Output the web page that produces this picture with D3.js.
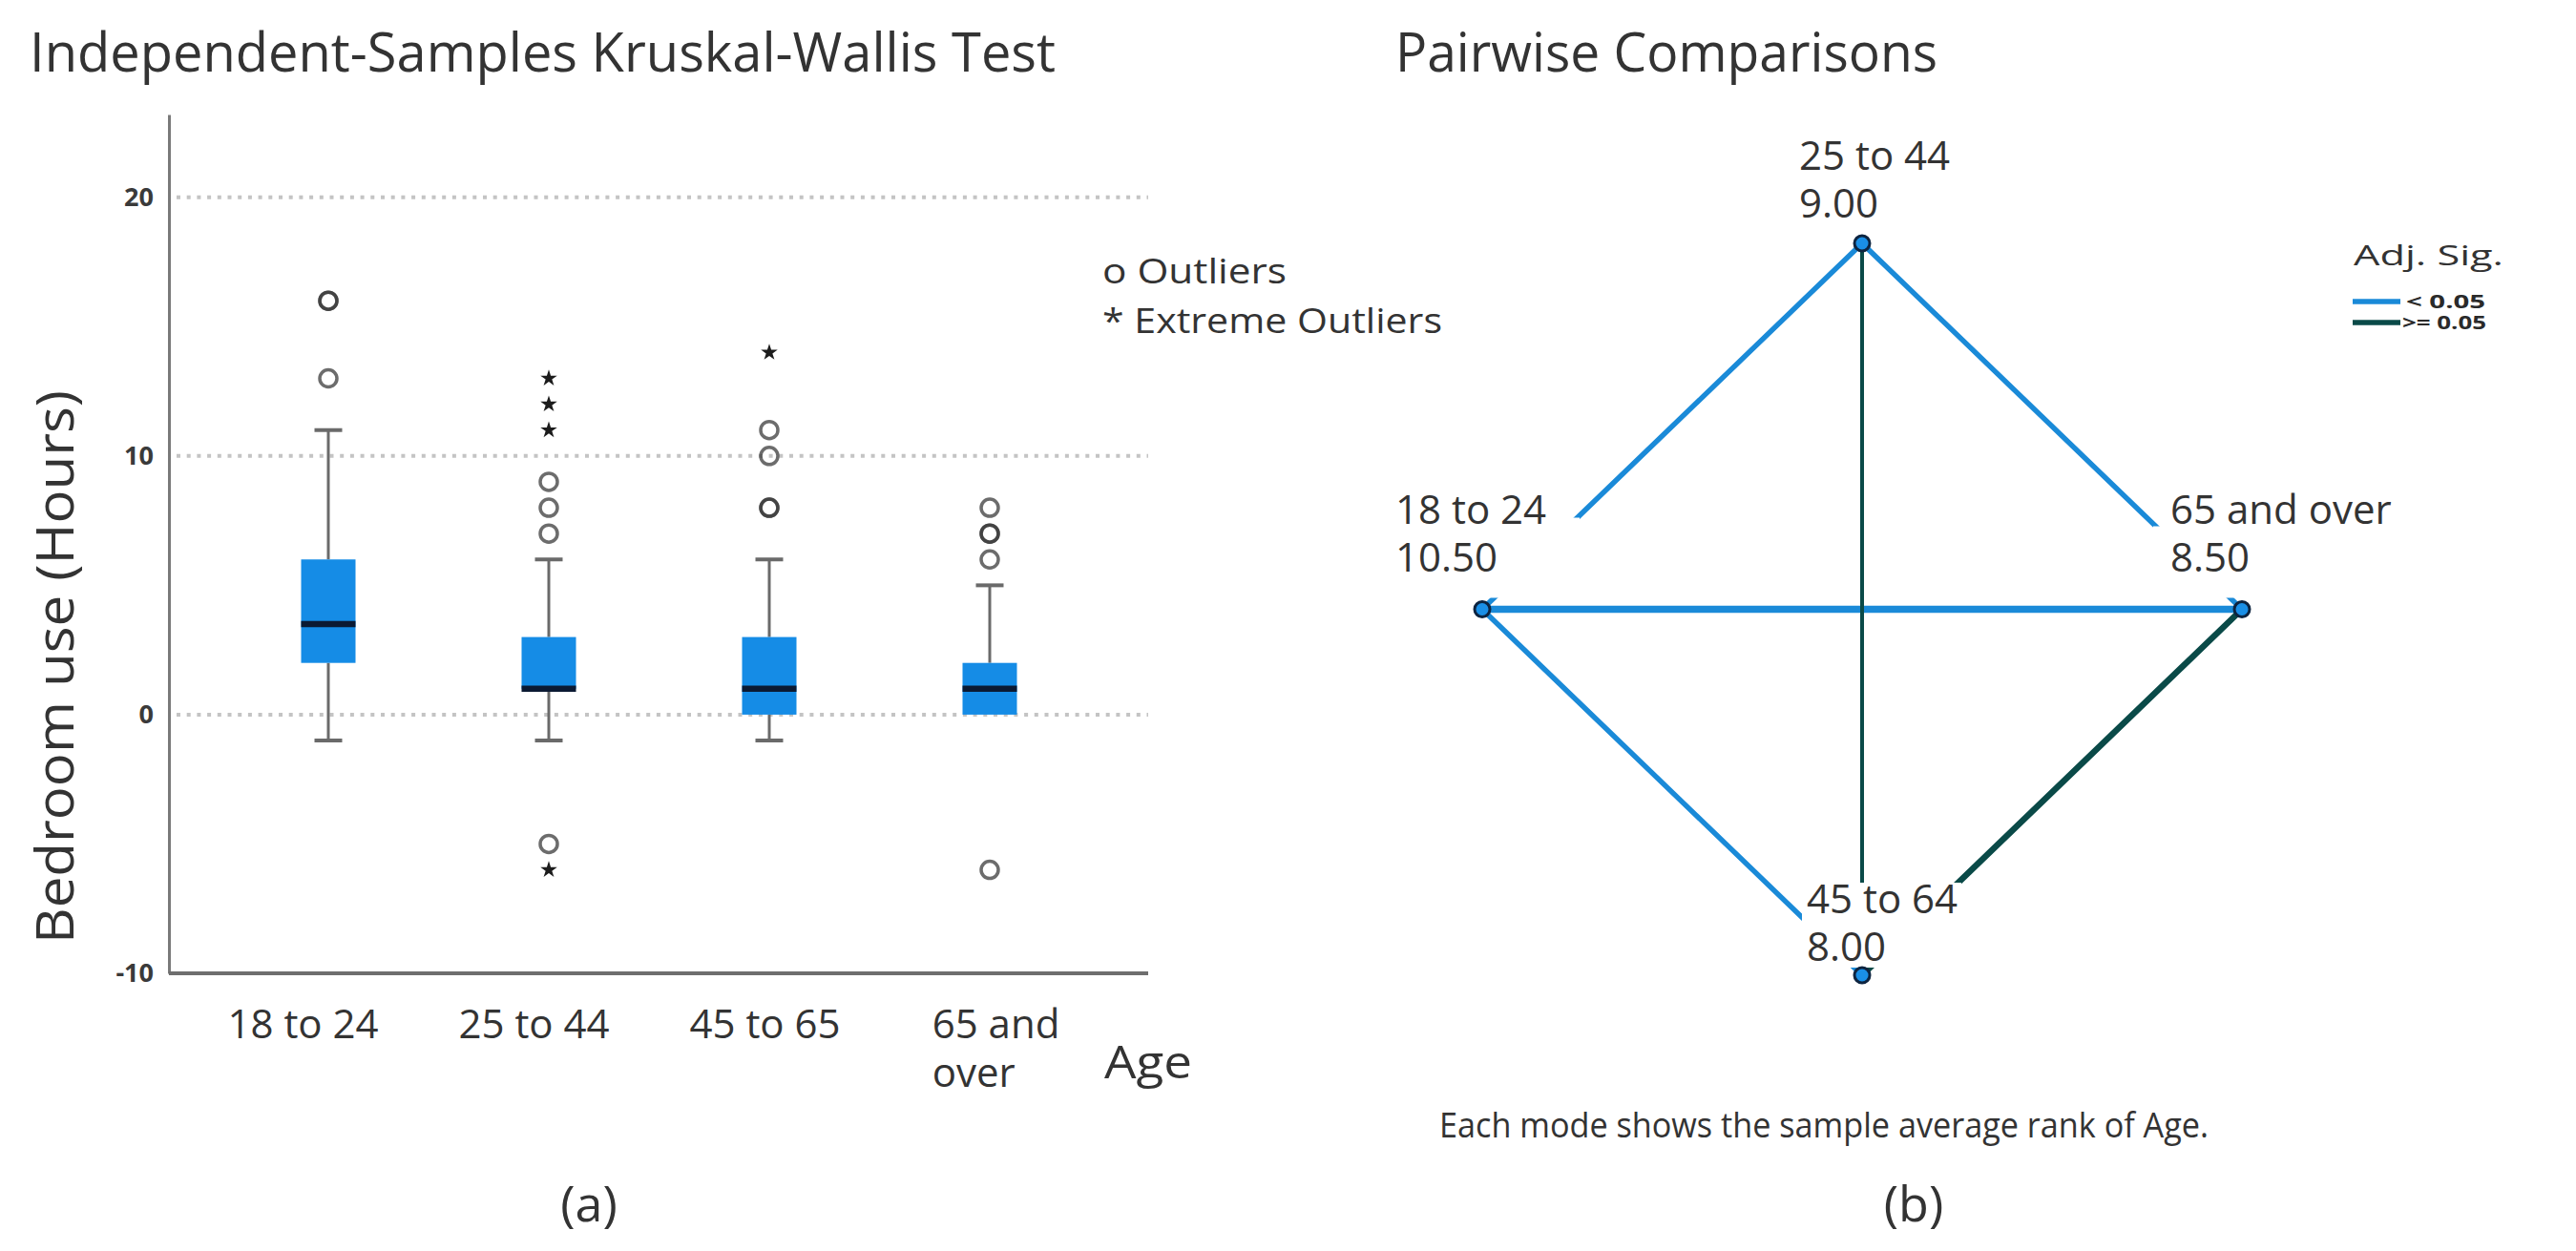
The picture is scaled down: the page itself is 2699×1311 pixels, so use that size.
<!DOCTYPE html>
<html><head><meta charset="utf-8">
<script src="https://cdn.jsdelivr.net/npm/d3@7"></script>
<style>
html,body{margin:0;padding:0;background:#fff;}
svg{display:block;font-family:"Open Sans",sans-serif;}
</style></head><body>
<svg id="chart" width="2699" height="1311"></svg>
<script>
// ---------- Panel (a) data: box plot of Bedroom use (Hours) by Age ----------
const categories   = ["18 to 24", "25 to 44", "45 to 65", "65 and over"];
const q1Values     = [2, 1, 0, 0];
const medianValues = [3.5, 1, 1, 1];
const q3Values     = [6, 3, 3, 2];
const whiskerLow   = [-1, -1, -1, 0];
const whiskerHigh  = [11, 6, 6, 5];
const outlierValues = [[16, 16, 13], [9, 8, 7, -5], [11, 10, 8, 8], [8, 7, 7, 6, -6]];
const extremeValues = [[], [13, 12, 11, -6], [14], []];
const yTickValues  = [-10, 0, 10, 20];
const gridValues   = [0, 10, 20];
const legendLabels = ["o Outliers", "* Extreme Outliers"];

// ---------- Panel (b) data: pairwise comparisons ----------
const groups    = ["25 to 44", "18 to 24", "65 and over", "45 to 64"];
const avgRanks  = [9.00, 10.50, 8.50, 8.00];
const pairFrom  = ["18 to 24", "25 to 44", "18 to 24", "18 to 24", "25 to 44", "65 and over"];
const pairTo    = ["25 to 44", "65 and over", "65 and over", "45 to 64", "45 to 64", "45 to 64"];
const pairSig   = ["< 0.05", "< 0.05", "< 0.05", "< 0.05", ">= 0.05", ">= 0.05"];
const sigClasses = ["< 0.05", ">= 0.05"];

const svg = d3.select("#chart");
const TXT = "#333";

// ================= Panel (a) =================
const axisX0 = 177, axisX1 = 1203;
const y = d3.scaleLinear().domain([-10, 23.2]).range([1020, 120]);
const xBox = d3.scalePoint().domain(categories).range([344, 1037]);
const xLab = d3.scalePoint().domain(categories).range([317, 1043]);

svg.append("text").attr("x", 31).attr("y", 75)
  .attr("font-size", 56).attr("fill", TXT)
  .attr("textLength", 1075).attr("lengthAdjust", "spacingAndGlyphs")
  .text("Independent-Samples Kruskal-Wallis Test");

// grid
svg.append("g").selectAll("line").data(gridValues).join("line")
  .attr("x1", axisX0 + 8).attr("x2", axisX1)
  .attr("y1", d => y(d)).attr("y2", d => y(d))
  .attr("stroke", "#c4c4c4").attr("stroke-width", 4).attr("stroke-dasharray", "4 6.7");

// y axis
const yAxisG = svg.append("g").attr("transform", `translate(${axisX0},0)`)
  .call(d3.axisLeft(y).tickValues(yTickValues).tickFormat(d => String(d))
    .tickSize(0).tickSizeOuter(0).tickPadding(16));
yAxisG.attr("font-family", null).attr("font-size", null);
yAxisG.select(".domain").attr("stroke", "#7a7a7a").attr("stroke-width", 3);
yAxisG.selectAll(".tick text").attr("font-size", 27).attr("font-weight", 700).attr("fill", "#3a3a3a");

// x axis line
svg.append("line").attr("x1", axisX0).attr("x2", axisX1)
  .attr("y1", y(-10)).attr("y2", y(-10))
  .attr("stroke", "#6e6e6e").attr("stroke-width", 4);

// x axis labels
const xAxisG = svg.append("g").attr("transform", "translate(0,1088)")
  .call(d3.axisBottom(xLab).tickSize(0).tickPadding(0));
xAxisG.attr("font-family", null).attr("font-size", null);
xAxisG.select(".domain").remove();
xAxisG.selectAll(".tick text").attr("y", 0).attr("dy", null)
  .attr("font-size", 42).attr("fill", TXT)
  .each(function(d) {
    const t = d3.select(this);
    if (this.getComputedTextLength() > 180) {
      const words = d.split(" ");
      const lines = [words.slice(0, 2).join(" "), words.slice(2).join(" ")];
      t.text(null);
      const spans = lines.map((ln, i) => t.append("tspan").attr("x", 0).attr("dy", i === 0 ? 0 : 51).text(ln));
      const w = d3.max(spans, s => s.node().getComputedTextLength());
      t.attr("text-anchor", "start");
      spans.forEach(s => s.attr("x", -w / 2));
    }
  });

svg.append("text").attr("x", 1157).attr("y", 1130)
  .attr("font-size", 48).attr("fill", TXT)
  .attr("textLength", 92).attr("lengthAdjust", "spacingAndGlyphs").text("Age");

// y axis title
svg.append("text").attr("transform", "translate(77,699) rotate(-90)")
  .attr("text-anchor", "middle").attr("font-size", 54).attr("fill", TXT)
  .attr("textLength", 580).attr("lengthAdjust", "spacingAndGlyphs")
  .text("Bedroom use (Hours)");

// boxes
const boxW = 57, capW = 29;
const boxes = categories.map((c, i) => ({
  c, q1: q1Values[i], med: medianValues[i], q3: q3Values[i],
  lo: whiskerLow[i], hi: whiskerHigh[i]
}));
const bg = svg.append("g").selectAll("g").data(boxes).join("g")
  .attr("transform", d => `translate(${xBox(d.c)},0)`);
const wcol = "#6a6a6a";
bg.append("line").attr("x1", 0).attr("x2", 0).attr("y1", d => y(d.hi)).attr("y2", d => y(d.q3))
  .attr("stroke", wcol).attr("stroke-width", 3);
bg.append("line").attr("x1", 0).attr("x2", 0).attr("y1", d => y(d.q1)).attr("y2", d => y(d.lo))
  .attr("stroke", wcol).attr("stroke-width", 3);
bg.filter(d => d.hi !== d.q3).append("line").attr("x1", -capW / 2).attr("x2", capW / 2)
  .attr("y1", d => y(d.hi)).attr("y2", d => y(d.hi)).attr("stroke", wcol).attr("stroke-width", 4);
bg.filter(d => d.lo !== d.q1).append("line").attr("x1", -capW / 2).attr("x2", capW / 2)
  .attr("y1", d => y(d.lo)).attr("y2", d => y(d.lo)).attr("stroke", wcol).attr("stroke-width", 4);
bg.append("rect").attr("x", -boxW / 2).attr("width", boxW)
  .attr("y", d => y(d.q3)).attr("height", d => y(d.q1) - y(d.q3))
  .attr("fill", "#158ce6");
bg.append("line").attr("x1", -boxW / 2).attr("x2", boxW / 2)
  .attr("y1", d => y(d.med)).attr("y2", d => y(d.med))
  .attr("stroke", "#0b1a33").attr("stroke-width", 6.5);

// outliers
const outData = categories.flatMap((c, i) => outlierValues[i].map(v => ({c, v})));
svg.append("g").selectAll("circle").data(outData).join("circle")
  .attr("cx", d => xBox(d.c)).attr("cy", d => y(d.v)).attr("r", 9)
  .attr("fill", "none").attr("stroke", "#333").attr("stroke-width", 3.5).attr("stroke-opacity", 0.72);
const extData = categories.flatMap((c, i) => extremeValues[i].map(v => ({c, v})));
svg.append("g").selectAll("path").data(extData).join("path")
  .attr("transform", d => `translate(${xBox(d.c)},${y(d.v)})`)
  .attr("d", d3.symbol(d3.symbolStar, 95)).attr("fill", "#1c1c1c");

// legend (a)
svg.append("g").selectAll("text").data(legendLabels).join("text")
  .attr("x", 1155).attr("y", (d, i) => 297 + i * 52)
  .attr("font-size", 36).attr("fill", TXT)
  .attr("textLength", (d, i) => i === 0 ? 193 : 356).attr("lengthAdjust", "spacingAndGlyphs")
  .text(d => d);

svg.append("text").attr("x", 617).attr("y", 1280).attr("text-anchor", "middle")
  .attr("font-size", 52).attr("fill", TXT).text("(a)");

// ================= Panel (b) =================
svg.append("text").attr("x", 1462).attr("y", 75)
  .attr("font-size", 56).attr("fill", TXT)
  .attr("textLength", 568).attr("lengthAdjust", "spacingAndGlyphs")
  .text("Pairwise Comparisons");

// diamond layout (top, left, right, bottom)
const layout = {"25 to 44": [0, 1], "18 to 24": [-1, 0], "65 and over": [1, 0], "45 to 64": [0, -1]};
const xN = d3.scaleLinear().domain([-1, 1]).range([1553, 2349]);
const yN = d3.scaleLinear().domain([-1, 1]).range([1022, 255]);
const nodes = groups.map((g, i) => ({g, rank: avgRanks[i], x: xN(layout[g][0]), y: yN(layout[g][1]), pos: ["top", "left", "right", "bottom"][i]}));
const nodeBy = Object.fromEntries(nodes.map(n => [n.g, n]));
const edges = pairFrom.map((f, i) => ({a: nodeBy[f], b: nodeBy[pairTo[i]], sig: pairSig[i]}))
  .sort((p, q) => sigClasses.indexOf(p.sig) - sigClasses.indexOf(q.sig));
const sigColor = d3.scaleOrdinal().domain(sigClasses).range(["#1a8ad8", "#0a4a48"]);

svg.append("g").selectAll("line").data(edges).join("line")
  .attr("x1", d => d.a.x).attr("y1", d => d.a.y).attr("x2", d => d.b.x).attr("y2", d => d.b.y)
  .attr("stroke", d => sigColor(d.sig))
  .attr("stroke-width", d => d.a.y === d.b.y ? 7.5 : (d.a.x === d.b.x ? 4 : (d.sig === "< 0.05" ? 5.5 : 6.5)))
  .attr("stroke-linecap", "round");

// label backgrounds (occlude lines like the original)
const occl = {left: [-98, 102, -96, -12], right: [-93, 161, -87, -12], bottom: [-63, 104, -97, -8]};
svg.append("g").selectAll("rect").data(nodes.filter(n => occl[n.pos])).join("rect")
  .attr("x", d => d.x + occl[d.pos][0]).attr("width", d => occl[d.pos][1] - occl[d.pos][0])
  .attr("y", d => d.y + occl[d.pos][2]).attr("height", d => occl[d.pos][3] - occl[d.pos][2])
  .attr("fill", "#fff");

svg.append("g").selectAll("circle").data(nodes).join("circle")
  .attr("cx", d => d.x).attr("cy", d => d.y).attr("r", 8)
  .attr("fill", "#1a8fe6").attr("stroke", "#0d2440").attr("stroke-width", 3);

const labOff = {top: [-66, -77], left: [-91, -90], right: [-75, -90], bottom: [-58, -65]};
const fmt = d3.format(".2f");
const lg = svg.append("g").selectAll("text").data(nodes).join("text")
  .attr("font-size", 42).attr("fill", TXT);
lg.append("tspan").attr("x", d => d.x + labOff[d.pos][0]).attr("y", d => d.y + labOff[d.pos][1]).text(d => d.g);
lg.append("tspan").attr("x", d => d.x + labOff[d.pos][0]).attr("y", d => d.y + labOff[d.pos][1] + 50).text(d => fmt(d.rank));

// legend (b)
svg.append("text").attr("x", 2466).attr("y", 278).attr("font-size", 29).attr("fill", TXT)
  .attr("textLength", 157).attr("lengthAdjust", "spacingAndGlyphs").text("Adj. Sig.");
const leg = svg.append("g").selectAll("g").data(sigClasses).join("g")
  .attr("transform", (d, i) => `translate(2465,${316 + i * 22})`);
leg.append("line").attr("x1", 0).attr("x2", 50).attr("stroke", d => sigColor(d)).attr("stroke-width", 5.5);
leg.append("text").attr("x", (d, i) => i === 0 ? 56 : 52).attr("y", 7).attr("font-size", 20).attr("font-weight", 700)
  .attr("fill", "#2a2a2a")
  .attr("textLength", (d, i) => i === 0 ? 83 : 88).attr("lengthAdjust", "spacingAndGlyphs")
  .text(d => d);

svg.append("text").attr("x", 1508).attr("y", 1192).attr("font-size", 37).attr("fill", TXT)
  .attr("textLength", 806).attr("lengthAdjust", "spacingAndGlyphs")
  .text("Each mode shows the sample average rank of Age.");

svg.append("text").attr("x", 2005).attr("y", 1280).attr("text-anchor", "middle")
  .attr("font-size", 52).attr("fill", TXT).text("(b)");
</script>
</body></html>
